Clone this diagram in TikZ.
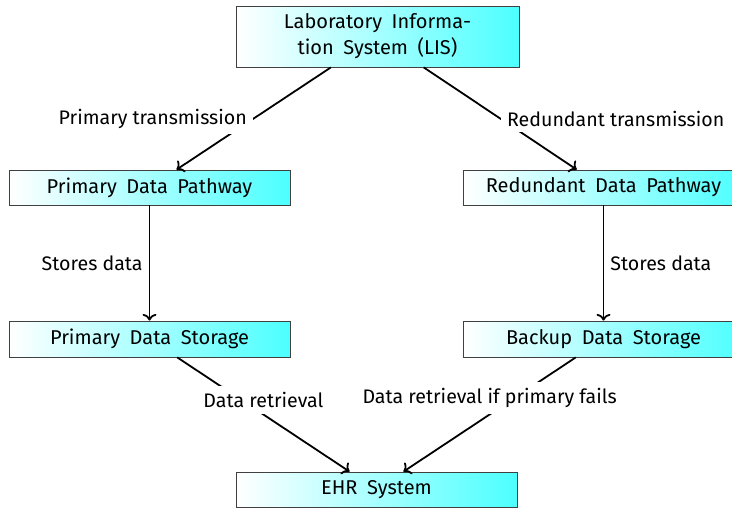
\documentclass[tikz,border=0pt]{standalone}
\usepackage{fontspec}
\setmainfont{Fira Sans}
\newfontfamily\boxfont{Fira Sans}[WordSpace=1.8]
\usetikzlibrary{arrows.meta}

\begin{document}
\begin{tikzpicture}[x=1pt, y=-1pt,
  box/.style={draw=black!75, line width=0.8pt, left color=white, right color=cyan!70,
    minimum width=281pt, minimum height=35pt, inner sep=0pt, align=center,
    font=\boxfont\fontsize{20}{26}\selectfont},
  lbl/.style={fill=white, inner sep=6pt, font=\fontsize{19.6}{24}\selectfont},
  link/.style={line width=1.8pt, -{To[scale=1.2]}}]

  \useasboundingbox (0,0) rectangle (732,507);

  % systems and data stores
  \node[box, minimum width=283pt, minimum height=61pt] (lis) at (377.5,36.5)
    {Laboratory Informa-\\tion System (LIS)};
  \node[box] (pdp) at (149.5,187.5) {Primary Data Pathway};
  \node[box] (rdp) at (603.5,187.5) {Redundant Data Pathway};
  \node[box, minimum height=36pt] (pds) at (149.5,339) {Primary Data Storage};
  \node[box, minimum height=36pt] (bds) at (603.5,339) {Backup Data Storage};
  \node[box] (ehr) at (376.5,489.5) {EHR System};

  % data flow
  \draw[link] (lis) -- node[lbl, left] {Primary transmission} (pdp);
  \draw[link] (lis) -- node[lbl, right] {Redundant transmission} (rdp);
  \draw[link] (pdp) -- node[lbl, left] {Stores data} (pds);
  \draw[link] (rdp) -- node[lbl, right] {Stores data} (bds);
  \draw[link] (pds) -- node[lbl, above] {Data retrieval} (ehr);
  \draw[link] (bds) -- node[lbl, above] {Data retrieval if primary fails} (ehr);
\end{tikzpicture}
\end{document}
